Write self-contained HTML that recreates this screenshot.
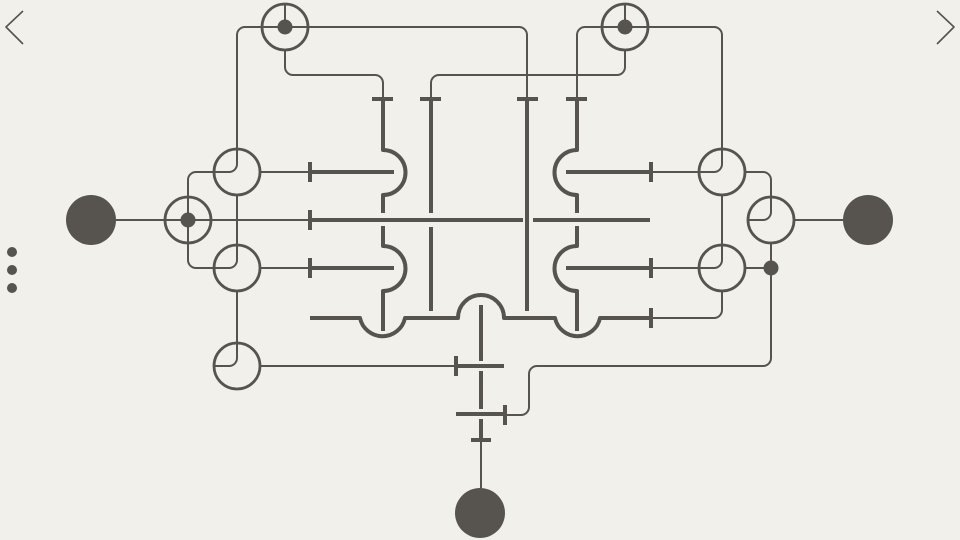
<!DOCTYPE html>
<html><head><meta charset="utf-8"><style>
html,body{margin:0;padding:0;background:#f1f0ea;}
svg{display:block;}
</style></head><body>
<svg width="960" height="540" viewBox="0 0 960 540" xmlns="http://www.w3.org/2000/svg">
<rect width="960" height="540" fill="#f1f0ea"/>
<g fill="none" stroke="#57534f" stroke-linecap="butt" stroke-linejoin="round">
<path d="M23 11 L6 27 L23 44" stroke-width="1.6"/>
<path d="M937 11 L954 27 L937 44" stroke-width="1.6"/>
<g stroke-width="2">
<path d="M237 150 V35 a8 8 0 0 1 8 -8 H519 a8 8 0 0 1 8 8 V99"/>
<path d="M285 50 V67 a8 8 0 0 0 8 8 H375 a8 8 0 0 1 8 8 V99"/>
<path d="M285 4 V27"/>
<path d="M625 50 V67 a8 8 0 0 1 -8 8 H439 a8 8 0 0 0 -8 8 V99"/>
<path d="M625 4 V27"/>
<path d="M577 99 V35 a8 8 0 0 1 8 -8 H714 a8 8 0 0 1 8 8 V150"/>
<path d="M237 150 V164 a8 8 0 0 1 -8 8 H196 a8 8 0 0 0 -8 8 V260 a8 8 0 0 0 8 8 H229 a8 8 0 0 0 8 -8 V195"/>
<path d="M237 291 V358 a8 8 0 0 1 -8 8 H214"/>
<path d="M260 172 H310"/>
<path d="M260 268 H310"/>
<path d="M116 220 H310"/>
<path d="M260 366 H456"/>
<path d="M722 150 V164 a8 8 0 0 1 -8 8 H650"/>
<path d="M722 195 V260 a8 8 0 0 1 -8 8 H650"/>
<path d="M722 291 V310 a8 8 0 0 1 -8 8 H650"/>
<path d="M745 172 H763 a8 8 0 0 1 8 8 V212 a8 8 0 0 1 -8 8 H748"/>
<path d="M794 220 H843"/>
<path d="M745 268 H771"/>
<path d="M771 243 V358 a8 8 0 0 1 -8 8 H537 a8 8 0 0 0 -8 8 V407 a8 8 0 0 1 -8 8 H504"/>
<path d="M481 440 V488"/>
</g>
<g stroke-width="2.8">
<circle cx="285" cy="27" r="23"/>
<circle cx="625" cy="27" r="23"/>
<circle cx="237" cy="172" r="23"/>
<circle cx="237" cy="268" r="23"/>
<circle cx="237" cy="366" r="23"/>
<circle cx="188" cy="220" r="23"/>
<circle cx="722" cy="172" r="23"/>
<circle cx="722" cy="268" r="23"/>
<circle cx="771" cy="220" r="23"/>
</g>
<g stroke-width="4">
<path d="M383 99 V150 a22 22 0 0 1 0 45 V213"/>
<path d="M383 226 V246 a22 22 0 0 1 0 45 V331"/>
<path d="M577 99 V150 a22 22 0 0 0 0 45 V213"/>
<path d="M577 226 V246 a22 22 0 0 0 0 45 V331"/>
<path d="M431 99 V213"/><path d="M431 227 V311"/>
<path d="M527 99 V311"/>
<path d="M310 318 H360 a23 23 0 0 0 45 0 H458 a23 23 0 0 1 46 0 H555 a23 23 0 0 0 45 0 H650"/>
<path d="M310 172 H394"/><path d="M310 268 H394"/>
<path d="M566 172 H650"/><path d="M566 268 H650"/>
<path d="M310 220 H523"/><path d="M533 220 H650"/>
<path d="M456 366 H504"/><path d="M456 414 H504"/>
<path d="M481 305 V361"/><path d="M481 371 V409"/><path d="M481 419 V440"/>
<path d="M372 99 H393"/><path d="M420 99 H441"/><path d="M517 99 H538"/><path d="M566 99 H587"/>
<path d="M310 162 V182"/><path d="M310 210 V230"/><path d="M310 258 V278"/>
<path d="M651 162 V182"/><path d="M651 258 V278"/><path d="M651 308 V328"/>
<path d="M456 356 V376"/><path d="M505 405 V425"/><path d="M471 440 H491"/>
</g>
</g>
<g fill="#57534f">
<circle cx="285" cy="27" r="7.5"/>
<circle cx="625" cy="27" r="7.5"/>
<circle cx="188" cy="220" r="7.5"/>
<circle cx="771" cy="268" r="7.5"/>
<circle cx="91" cy="220" r="25"/>
<circle cx="868" cy="220" r="25"/>
<circle cx="480" cy="513" r="25"/>
<circle cx="12" cy="252" r="5"/>
<circle cx="12" cy="270" r="5"/>
<circle cx="12" cy="288" r="5"/>
</g>
</svg>
</body></html>
